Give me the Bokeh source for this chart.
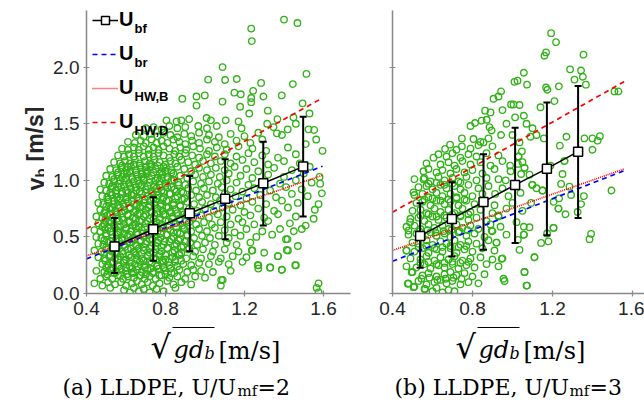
from bokeh.plotting import figure
from bokeh.models import (ColumnDataSource, Whisker, TeeHead, Label, Legend, LegendItem,
                          Range1d, FixedTicker, PrintfTickFormatter)
from bokeh.layouts import row, column
from bokeh.embed import file_html
from bokeh.resources import INLINE
from bokeh.core.properties import value

# ---------------- data ----------------
x_ticks = [0.4, 0.8, 1.2, 1.6]
y_ticks = [0.0, 0.5, 1.0, 1.5, 2.0]

# panel (a)  U/Umf = 2
a_bf_x = [0.542, 0.738, 0.923, 1.102, 1.295, 1.497]
a_bf_y = [0.415, 0.568, 0.709, 0.836, 0.974, 1.121]
a_bf_hi = [0.668, 0.850, 1.039, 1.185, 1.341, 1.562]
a_bf_lo = [0.180, 0.290, 0.373, 0.479, 0.600, 0.680]
a_line_x = [0.4, 1.595]
a_br_y = [0.306, 1.124]
a_hwb_y = [0.333, 1.044]
a_hwd_y = [0.571, 1.727]

# panel (b)  U/Umf = 3
b_bf_x = [0.538, 0.697, 0.855, 1.013, 1.172, 1.328]
b_bf_y = [0.509, 0.659, 0.809, 0.959, 1.103, 1.253]
b_bf_hi = [0.797, 0.982, 1.230, 1.465, 1.688, 1.833]
b_bf_lo = [0.227, 0.327, 0.386, 0.447, 0.515, 0.668]
b_line_x = [0.4, 1.558]
b_br_y = [0.285, 1.085]
b_hwb_y = [0.380, 1.100]
b_hwd_y = [0.718, 1.871]

a_points = [
(0.59,0.03),(0.62,0.01),(0.64,0.05),(0.665,0.02),(0.69,0.04),(0.72,0.01),(0.755,0.04),(0.79,0.02),(0.85,0.05),(1.565,0.05),(1.575,0.01),(0.52,0.05),
(0.44,0.09),(0.48,0.07),(0.51,0.10),(0.545,0.08),(0.575,0.10),(0.60,0.07),(0.63,0.09),(0.655,0.11),(0.68,0.08),(0.71,0.10),(0.735,0.07),(0.77,0.09),(0.81,0.11),(0.84,0.08),(0.88,0.10),(0.93,0.08),(1.08,0.07),(1.09,0.12),
(0.47,0.13),(0.50,0.15),(0.53,0.13),(0.56,0.16),(0.585,0.13),(0.61,0.15),(0.64,0.14),(0.67,0.16),(0.695,0.13),(0.72,0.15),(0.75,0.13),(0.78,0.16),(0.82,0.14),(0.86,0.15),(0.90,0.13),(0.95,0.15),(1.00,0.14),
(0.45,0.20),(0.49,0.19),(0.52,0.21),(0.55,0.19),(0.575,0.22),(0.60,0.20),(0.63,0.18),(0.655,0.21),(0.68,0.19),(0.71,0.21),(0.74,0.19),(0.765,0.22),(0.80,0.20),(0.83,0.18),(0.87,0.21),(0.91,0.19),(0.94,0.21),(0.98,0.20),(1.04,0.19),(1.13,0.20),(1.27,0.22),(1.33,0.23),(1.39,0.21),(1.46,0.25),
(0.48,0.26),(0.51,0.25),(0.535,0.27),(0.56,0.25),(0.59,0.27),(0.62,0.24),(0.645,0.26),(0.67,0.28),(0.70,0.25),(0.73,0.27),(0.76,0.25),(0.79,0.27),(0.82,0.25),(0.85,0.28),(0.89,0.26),(0.93,0.25),(0.97,0.27),(1.02,0.26),(1.07,0.28),(1.12,0.26),(1.19,0.28),(1.27,0.25),
(0.46,0.32),(0.49,0.31),(0.515,0.33),(0.545,0.31),(0.57,0.33),(0.60,0.30),(0.625,0.32),(0.65,0.34),(0.68,0.31),(0.71,0.33),(0.74,0.31),(0.77,0.33),(0.80,0.30),(0.835,0.32),(0.87,0.34),(0.905,0.31),(0.94,0.33),(0.98,0.31),(1.03,0.33),(1.08,0.31),(1.14,0.33),(1.21,0.32),(1.37,0.33),(1.42,0.38),
(0.44,0.38),(0.475,0.37),(0.50,0.39),(0.53,0.37),(0.555,0.40),(0.58,0.37),(0.61,0.39),(0.64,0.37),(0.665,0.40),(0.69,0.38),(0.72,0.36),(0.75,0.39),(0.78,0.37),(0.81,0.40),(0.845,0.38),(0.88,0.36),(0.915,0.39),(0.95,0.37),(0.99,0.39),(1.04,0.37),(1.10,0.39),(1.17,0.37),(1.24,0.38),(1.30,0.36),
(0.46,0.44),(0.485,0.43),(0.51,0.45),(0.54,0.43),(0.565,0.46),(0.59,0.43),(0.62,0.45),(0.65,0.43),(0.675,0.46),(0.70,0.44),(0.73,0.42),(0.76,0.45),(0.79,0.43),(0.82,0.46),(0.855,0.44),(0.89,0.42),(0.925,0.45),(0.96,0.43),(1.00,0.45),(1.05,0.43),(1.11,0.45),(1.16,0.43),(1.23,0.45),(1.41,0.48),(1.47,0.42),
(0.45,0.50),(0.475,0.49),(0.50,0.51),(0.53,0.49),(0.555,0.52),(0.58,0.49),(0.61,0.51),(0.635,0.49),(0.66,0.52),(0.69,0.50),(0.72,0.48),(0.75,0.51),(0.775,0.49),(0.81,0.52),(0.84,0.50),(0.875,0.48),(0.91,0.51),(0.945,0.49),(0.985,0.51),(1.025,0.49),(1.07,0.51),(1.12,0.49),(1.18,0.51),(1.26,0.50),(1.34,0.52),(1.49,0.57),
(0.44,0.56),(0.47,0.55),(0.495,0.57),(0.52,0.55),(0.545,0.58),(0.57,0.55),(0.60,0.57),(0.625,0.55),(0.65,0.58),(0.68,0.56),(0.71,0.54),(0.735,0.57),(0.76,0.55),(0.79,0.58),(0.825,0.56),(0.86,0.54),(0.895,0.57),(0.93,0.55),(0.97,0.57),(1.01,0.55),(1.05,0.58),(1.10,0.56),(1.15,0.54),(1.21,0.57),(1.29,0.55),(1.38,0.57),(1.45,0.55),
(0.46,0.62),(0.49,0.61),(0.515,0.63),(0.54,0.61),(0.565,0.64),(0.59,0.61),(0.62,0.63),(0.645,0.61),(0.67,0.64),(0.70,0.62),(0.73,0.60),(0.755,0.63),(0.78,0.61),(0.815,0.64),(0.85,0.62),(0.885,0.60),(0.92,0.63),(0.955,0.61),(0.995,0.63),(1.035,0.61),(1.08,0.63),(1.13,0.61),(1.19,0.63),(1.25,0.61),(1.32,0.64),(1.43,0.62),(1.51,0.60),
(0.45,0.68),(0.48,0.67),(0.505,0.69),(0.53,0.67),(0.555,0.70),(0.58,0.67),(0.61,0.69),(0.635,0.67),(0.66,0.70),(0.69,0.68),(0.72,0.66),(0.745,0.69),(0.77,0.67),(0.80,0.70),(0.835,0.68),(0.87,0.66),(0.905,0.69),(0.94,0.67),(0.98,0.69),(1.02,0.67),(1.065,0.70),(1.11,0.68),(1.17,0.66),(1.23,0.69),(1.30,0.67),(1.37,0.70),(1.46,0.68),(1.55,0.66),
(0.47,0.74),(0.495,0.73),(0.52,0.75),(0.545,0.73),(0.57,0.76),(0.595,0.73),(0.62,0.75),(0.65,0.73),(0.675,0.76),(0.70,0.74),(0.73,0.72),(0.76,0.75),(0.785,0.73),(0.815,0.76),(0.85,0.74),(0.885,0.72),(0.92,0.75),(0.96,0.73),(1.00,0.75),(1.045,0.73),(1.09,0.76),(1.14,0.74),(1.20,0.72),(1.27,0.75),(1.35,0.73),(1.42,0.76),(1.556,0.74),
(0.46,0.80),(0.485,0.79),(0.51,0.81),(0.535,0.79),(0.56,0.82),(0.585,0.79),(0.61,0.81),(0.64,0.79),(0.665,0.82),(0.69,0.80),(0.72,0.78),(0.75,0.81),(0.775,0.79),(0.805,0.82),(0.84,0.80),(0.875,0.78),(0.91,0.81),(0.945,0.79),(0.985,0.81),(1.03,0.79),(1.075,0.82),(1.12,0.80),(1.18,0.78),(1.24,0.81),(1.31,0.79),(1.39,0.82),(1.47,0.80),(1.575,0.79),
(0.48,0.86),(0.505,0.85),(0.53,0.87),(0.555,0.85),(0.58,0.88),(0.605,0.85),(0.63,0.87),(0.655,0.85),(0.68,0.88),(0.71,0.86),(0.74,0.84),(0.765,0.87),(0.79,0.85),(0.825,0.88),(0.86,0.86),(0.895,0.84),(0.93,0.87),(0.97,0.85),(1.01,0.87),(1.055,0.85),(1.10,0.88),(1.155,0.86),(1.21,0.84),(1.28,0.87),(1.36,0.85),(1.44,0.88),(1.52,0.86),(1.592,0.885),
(0.47,0.92),(0.50,0.91),(0.525,0.93),(0.55,0.91),(0.575,0.94),(0.60,0.91),(0.625,0.93),(0.65,0.91),(0.675,0.94),(0.70,0.92),(0.73,0.90),(0.755,0.93),(0.78,0.91),(0.81,0.94),(0.845,0.92),(0.88,0.90),(0.915,0.93),(0.955,0.91),(0.995,0.93),(1.04,0.91),(1.085,0.94),(1.13,0.92),(1.19,0.90),(1.25,0.93),(1.33,0.91),(1.41,0.94),(1.49,0.92),(1.583,0.97),
(0.49,0.98),(0.515,0.97),(0.54,0.99),(0.565,0.97),(0.59,1.00),(0.615,0.97),(0.64,0.99),(0.665,0.97),(0.69,1.00),(0.72,0.98),(0.745,0.96),(0.77,0.99),(0.80,0.97),(0.83,1.00),(0.865,0.98),(0.90,0.96),(0.94,0.99),(0.98,0.97),(1.02,0.99),(1.065,0.97),(1.11,1.00),(1.16,0.98),(1.22,0.96),(1.30,0.99),(1.38,0.97),(1.46,1.00),(1.54,0.98),
(0.50,1.04),(0.53,1.03),(0.555,1.05),(0.58,1.03),(0.605,1.06),(0.63,1.03),(0.655,1.05),(0.68,1.03),(0.705,1.06),(0.73,1.04),(0.76,1.02),(0.785,1.05),(0.81,1.03),(0.84,1.06),(0.875,1.04),(0.91,1.02),(0.95,1.05),(0.99,1.03),(1.03,1.05),(1.075,1.03),(1.12,1.06),(1.18,1.04),(1.24,1.02),(1.32,1.05),(1.40,1.03),(1.50,1.06),(1.58,1.03),
(0.52,1.10),(0.55,1.09),(0.575,1.11),(0.60,1.09),(0.625,1.12),(0.65,1.09),(0.675,1.11),(0.70,1.09),(0.725,1.12),(0.75,1.10),(0.78,1.08),(0.805,1.11),(0.83,1.09),(0.86,1.12),(0.895,1.10),(0.93,1.08),(0.97,1.11),(1.01,1.09),(1.055,1.11),(1.10,1.09),(1.15,1.12),(1.21,1.10),(1.27,1.08),(1.35,1.11),(1.44,1.09),(1.53,1.12),
(0.54,1.16),(0.57,1.15),(0.595,1.17),(0.62,1.15),(0.645,1.18),(0.67,1.15),(0.695,1.17),(0.72,1.15),(0.745,1.18),(0.77,1.16),(0.80,1.14),(0.825,1.17),(0.85,1.15),(0.88,1.18),(0.915,1.16),(0.95,1.14),(0.99,1.17),(1.03,1.15),(1.08,1.17),(1.13,1.15),(1.19,1.18),(1.25,1.16),(1.32,1.14),(1.40,1.17),(1.48,1.15),
(0.56,1.22),(0.59,1.21),(0.615,1.23),(0.64,1.21),(0.665,1.24),(0.69,1.21),(0.715,1.23),(0.74,1.21),(0.765,1.24),(0.79,1.22),(0.82,1.20),(0.845,1.23),(0.87,1.21),(0.90,1.24),(0.935,1.22),(0.97,1.20),(1.01,1.23),(1.05,1.21),(1.10,1.23),(1.16,1.21),(1.22,1.24),(1.29,1.22),(1.37,1.20),(1.46,1.23),(1.595,1.26),
(0.58,1.28),(0.61,1.27),(0.64,1.29),(0.665,1.27),(0.69,1.30),(0.715,1.27),(0.74,1.29),(0.765,1.27),(0.79,1.30),(0.82,1.28),(0.85,1.26),(0.875,1.29),(0.905,1.27),(0.94,1.30),(0.975,1.28),(1.02,1.26),(1.06,1.29),(1.11,1.27),(1.17,1.30),(1.24,1.28),(1.31,1.26),(1.42,1.29),(1.51,1.32),
(0.61,1.34),(0.645,1.33),(0.675,1.35),(0.70,1.33),(0.73,1.36),(0.755,1.33),(0.78,1.35),(0.81,1.33),(0.84,1.36),(0.87,1.34),(0.90,1.32),(0.935,1.35),(0.97,1.33),(1.01,1.36),(1.05,1.34),(1.10,1.32),(1.16,1.35),(1.23,1.33),(1.29,1.36),(1.364,1.415),(1.563,1.36),
(0.65,1.40),(0.69,1.39),(0.725,1.41),(0.76,1.39),(0.79,1.42),(0.825,1.40),(0.86,1.38),(0.895,1.41),(0.93,1.39),(0.97,1.42),(1.02,1.40),(1.07,1.38),(1.13,1.41),(1.20,1.39),(1.27,1.42),(1.39,1.40),
(0.70,1.46),(0.74,1.47),(0.78,1.45),(0.82,1.48),(0.86,1.46),(0.90,1.47),(0.966,1.48),(1.01,1.46),(1.06,1.48),(1.185,1.46),(1.347,1.47),(1.419,1.45),(1.46,1.50),(1.524,1.45),(1.553,1.445),
(0.805,1.53),(0.856,1.52),(0.88,1.53),(0.92,1.54),(1.008,1.55),(1.03,1.53),(1.105,1.53),(1.17,1.52),(1.315,1.50),(1.367,1.54),(1.448,1.556),
(0.885,1.72),(0.957,1.74),(0.999,1.75),(0.957,1.66),(1.016,1.89),(1.089,2.0),(1.102,1.886),(1.161,1.895),(1.284,1.86),(1.445,1.85),(1.514,1.94),(1.149,1.774),(1.181,1.76),(1.244,1.79),(1.234,1.727),(1.296,1.74),(1.389,1.75),(1.089,1.695),(1.234,1.69),(1.178,1.65),(1.318,1.615),(1.224,1.59),(1.494,1.68),(1.529,1.59),(1.234,2.34),(1.237,2.23),(1.40,2.42),(1.468,2.39),
(1.082,0.12),(1.457,0.25),(1.389,0.21),(1.33,0.23),(1.267,0.25),(1.369,0.33),(1.414,0.385),(1.418,0.48),(1.237,0.38),(1.575,0.09),
# denser core
(0.505,0.17),(0.54,0.18),(0.57,0.16),(0.605,0.17),(0.64,0.18),(0.675,0.16),(0.70,0.17),(0.735,0.18),(0.77,0.16),(0.80,0.17),(0.845,0.18),
(0.50,0.23),(0.535,0.22),(0.565,0.24),(0.60,0.23),(0.63,0.22),(0.66,0.24),(0.695,0.23),(0.725,0.22),(0.755,0.24),(0.79,0.23),(0.825,0.22),(0.86,0.24),
(0.495,0.29),(0.53,0.28),(0.56,0.30),(0.59,0.29),(0.625,0.28),(0.655,0.30),(0.69,0.29),(0.72,0.28),(0.75,0.30),(0.785,0.29),(0.815,0.28),(0.85,0.30),(0.88,0.29),
(0.49,0.35),(0.52,0.34),(0.55,0.36),(0.585,0.35),(0.615,0.34),(0.645,0.36),(0.68,0.35),(0.71,0.34),(0.74,0.36),(0.77,0.35),(0.80,0.34),(0.835,0.36),(0.87,0.35),
(0.50,0.41),(0.53,0.40),(0.56,0.42),(0.595,0.41),(0.625,0.40),(0.655,0.42),(0.69,0.41),(0.72,0.40),(0.75,0.42),(0.78,0.41),(0.81,0.40),(0.845,0.42),(0.88,0.41),(0.92,0.40),
(0.49,0.47),(0.52,0.46),(0.55,0.48),(0.58,0.47),(0.61,0.46),(0.64,0.48),(0.675,0.47),(0.705,0.46),(0.735,0.48),(0.765,0.47),(0.795,0.46),(0.83,0.48),(0.865,0.47),(0.90,0.46),
(0.50,0.53),(0.53,0.52),(0.56,0.54),(0.59,0.53),(0.62,0.52),(0.655,0.54),(0.685,0.53),(0.715,0.52),(0.745,0.54),(0.775,0.53),(0.805,0.52),(0.84,0.54),(0.875,0.53),(0.91,0.52),
(0.48,0.59),(0.51,0.58),(0.54,0.60),(0.57,0.59),(0.60,0.58),(0.635,0.60),(0.665,0.59),(0.695,0.58),(0.725,0.60),(0.755,0.59),(0.785,0.58),(0.82,0.60),(0.855,0.59),(0.89,0.58),
(0.495,0.65),(0.525,0.64),(0.555,0.66),(0.585,0.65),(0.615,0.64),(0.65,0.66),(0.68,0.65),(0.71,0.64),(0.74,0.66),(0.77,0.65),(0.80,0.64),(0.835,0.66),(0.87,0.65),(0.905,0.64),
(0.49,0.71),(0.52,0.70),(0.55,0.72),(0.58,0.71),(0.61,0.70),(0.64,0.72),(0.67,0.71),(0.70,0.70),(0.73,0.72),(0.76,0.71),(0.79,0.70),(0.825,0.72),(0.86,0.71),(0.895,0.70),
(0.50,0.77),(0.53,0.76),(0.56,0.78),(0.59,0.77),(0.62,0.76),(0.655,0.78),(0.685,0.77),(0.715,0.76),(0.745,0.78),(0.775,0.77),(0.805,0.76),(0.84,0.78),(0.875,0.77),
(0.51,0.83),(0.54,0.82),(0.57,0.84),(0.60,0.83),(0.63,0.82),(0.665,0.84),(0.695,0.83),(0.725,0.82),(0.755,0.84),(0.785,0.83),(0.815,0.82),(0.85,0.84),(0.885,0.83),
(0.52,0.89),(0.55,0.88),(0.58,0.90),(0.61,0.89),(0.64,0.88),(0.67,0.90),(0.70,0.89),(0.73,0.88),(0.76,0.90),(0.79,0.89),(0.82,0.88),(0.855,0.90),(0.89,0.89),
(0.53,0.95),(0.56,0.94),(0.59,0.96),(0.62,0.95),(0.65,0.94),(0.68,0.96),(0.71,0.95),(0.74,0.94),(0.77,0.96),(0.80,0.95),(0.83,0.94),(0.865,0.96),
(0.54,1.01),(0.57,1.00),(0.60,1.02),(0.63,1.01),(0.66,1.00),(0.69,1.02),(0.72,1.01),(0.75,1.00),(0.78,1.02),(0.81,1.01),(0.845,1.00),
(0.56,1.07),(0.59,1.06),(0.62,1.08),(0.65,1.07),(0.68,1.06),(0.71,1.08),(0.74,1.07),(0.77,1.06),(0.80,1.08),(0.83,1.07),
(0.58,1.13),(0.61,1.12),(0.64,1.14),(0.67,1.13),(0.70,1.12),(0.73,1.14),(0.76,1.13),(0.79,1.12),
]

b_points = [
(0.56,0.04),(0.60,0.02),(0.62,0.05),(0.65,0.01),(0.68,0.03),(0.71,0.02),(1.07,0.07),(0.51,0.06),
(0.48,0.09),(0.53,0.11),(0.57,0.08),(0.61,0.10),(0.64,0.12),(0.67,0.09),(0.70,0.11),(0.74,0.08),(0.78,0.10),(0.83,0.09),(0.96,0.11),(0.955,0.13),
(0.50,0.19),(0.55,0.16),(0.58,0.18),(0.62,0.15),(0.66,0.17),(0.69,0.19),(0.72,0.16),(0.76,0.18),(0.80,0.15),(0.86,0.17),(1.06,0.19),
(0.47,0.24),(0.52,0.23),(0.56,0.26),(0.59,0.22),(0.63,0.25),(0.66,0.23),(0.70,0.26),(0.73,0.22),(0.77,0.25),(0.81,0.23),(0.87,0.26),(0.93,0.24),
(0.49,0.31),(0.54,0.30),(0.57,0.33),(0.61,0.29),(0.64,0.32),(0.68,0.30),(0.71,0.33),(0.75,0.29),(0.79,0.31),(0.84,0.32),(0.90,0.30),(0.95,0.31),(1.11,0.32),
(0.47,0.38),(0.51,0.37),(0.55,0.40),(0.58,0.36),(0.62,0.39),(0.65,0.37),(0.69,0.40),(0.72,0.36),(0.76,0.39),(0.80,0.37),(0.85,0.40),(0.91,0.38),(1.035,0.386),
(0.50,0.45),(0.53,0.44),(0.57,0.47),(0.60,0.43),(0.64,0.46),(0.67,0.44),(0.71,0.47),(0.74,0.43),(0.78,0.46),(0.82,0.44),(0.88,0.47),(0.92,0.45),(1.027,0.474),(1.143,0.447),(1.18,0.46),(1.385,0.48),
(0.48,0.52),(0.52,0.53),(0.55,0.50),(0.59,0.54),(0.62,0.51),(0.66,0.53),(0.69,0.50),(0.73,0.54),(0.77,0.51),(0.81,0.53),(0.86,0.50),(0.90,0.55),(0.97,0.52),(1.057,0.52),(1.173,0.53),(1.393,0.527),
(0.47,0.59),(0.51,0.60),(0.54,0.57),(0.58,0.61),(0.61,0.58),(0.65,0.60),(0.68,0.57),(0.72,0.61),(0.75,0.58),(0.79,0.60),(0.83,0.57),(0.89,0.61),(0.94,0.59),(1.057,0.59),(1.085,0.585),(1.205,0.58),
(0.49,0.66),(0.53,0.67),(0.56,0.64),(0.60,0.68),(0.63,0.65),(0.67,0.67),(0.70,0.64),(0.74,0.68),(0.78,0.65),(0.82,0.67),(0.87,0.64),(0.93,0.68),(1.02,0.63),(1.265,0.70),
(0.50,0.73),(0.54,0.74),(0.57,0.71),(0.61,0.75),(0.64,0.72),(0.68,0.74),(0.71,0.71),(0.75,0.75),(0.79,0.72),(0.84,0.74),(0.90,0.71),(0.97,0.75),(1.05,0.73),(1.23,0.75),(1.326,0.72),
(0.52,0.80),(0.55,0.81),(0.59,0.78),(0.62,0.82),(0.66,0.79),(0.69,0.81),(0.73,0.78),(0.77,0.82),(0.81,0.79),(0.86,0.81),(0.91,0.78),(1.00,0.80),(1.093,0.80),(1.206,0.81),(1.343,0.79),
(0.51,0.87),(0.55,0.88),(0.58,0.85),(0.62,0.89),(0.65,0.86),(0.69,0.88),(0.72,0.85),(0.76,0.89),(0.80,0.86),(0.85,0.88),(0.913,0.88),(0.98,0.86),(1.04,0.89),(1.15,0.91),(1.293,0.87),(1.357,0.86),(1.233,0.84),
(0.53,0.94),(0.57,0.95),(0.60,0.92),(0.64,0.96),(0.67,0.93),(0.71,0.95),(0.74,0.92),(0.78,0.96),(0.83,0.93),(0.88,0.95),(0.95,0.93),(1.10,0.96),(1.12,0.93),(1.243,0.968),(1.285,0.944),(1.495,0.91),(1.098,0.96),
(0.51,1.01),(0.56,1.02),(0.59,0.99),(0.63,1.03),(0.66,1.00),(0.70,1.02),(0.73,0.99),(0.77,1.03),(0.82,1.00),(0.87,1.02),(0.93,1.01),(0.966,1.00),(1.043,1.056),(1.085,1.05),(1.25,1.056),
(0.555,1.08),(0.58,1.10),(0.62,1.07),(0.65,1.09),(0.69,1.06),(0.72,1.10),(0.76,1.07),(0.80,1.09),(0.85,1.06),(0.91,1.10),(0.99,1.08),(1.06,1.11),(1.19,1.13),
(0.57,1.15),(0.605,1.20),(0.64,1.14),(0.68,1.16),(0.71,1.13),(0.75,1.17),(0.79,1.14),(0.84,1.16),(0.89,1.13),(0.95,1.17),(0.988,1.13),(1.027,1.145),(1.05,1.16),(1.26,1.17),
(0.63,1.23),(0.67,1.21),(0.70,1.24),(0.74,1.20),(0.78,1.23),(0.82,1.21),(0.87,1.24),(0.93,1.22),(1.03,1.21),(1.237,1.306),
(0.663,1.277),(0.688,1.315),(0.72,1.27),(0.747,1.30),(0.79,1.28),(0.83,1.31),(0.855,1.335),(0.90,1.30),(1.035,1.335),(1.047,1.256),
(0.747,1.37),(0.805,1.365),(0.84,1.34),(0.88,1.37),(0.943,1.40),(1.0,1.40),(1.09,1.385),(1.157,1.37),(1.27,1.385),(1.36,1.37),(1.40,1.37),(1.426,1.35),(1.437,1.39),(1.40,1.27),
(0.79,1.48),(0.813,1.506),(0.846,1.527),(0.871,1.535),(0.885,1.47),(0.896,1.44),(0.863,1.615),(0.89,1.60),(0.905,1.72),(0.93,1.74),(0.943,1.785),(0.993,1.67),(1.005,1.67),(1.013,1.556),(1.01,1.87),(1.025,1.88),(1.035,1.665),(1.057,1.57),(1.10,1.46),(1.057,1.95),(1.073,1.845),(1.14,1.645),(1.168,1.82),(1.175,1.80),(1.16,2.10),(1.168,2.13),(1.193,2.30),(1.218,2.22),(1.21,1.70),(1.232,1.83),(1.288,1.98),(1.31,1.89),(1.343,1.97),(1.352,1.915),(1.355,2.11),(1.367,1.845),(1.51,1.785),(1.53,1.785),(0.97,1.50),(0.95,1.62),(1.07,1.50),(1.12,1.40),
(1.15,0.91),(1.23,0.75),(1.26,1.17),(1.06,0.19),(1.073,0.07),(1.057,0.52),(1.06,1.11),(1.03,1.21),(1.205,0.58),(1.11,0.32),(0.946,0.306),(0.92,0.45),(0.896,0.556),(0.93,0.69),(0.477,0.086),(0.505,0.056),(0.563,0.04),(0.496,0.188),(0.48,0.556),(0.488,0.63),(0.47,0.38),(0.505,0.894),(0.555,1.01),
# denser core
(0.545,0.13),(0.585,0.14),(0.625,0.12),(0.665,0.13),(0.705,0.14),(0.745,0.13),
(0.54,0.27),(0.58,0.28),(0.62,0.26),(0.66,0.27),(0.70,0.28),(0.74,0.27),(0.78,0.28),
(0.53,0.41),(0.57,0.42),(0.61,0.40),(0.65,0.41),(0.69,0.42),(0.73,0.41),(0.77,0.42),
(0.535,0.55),(0.575,0.56),(0.615,0.54),(0.655,0.55),(0.695,0.56),(0.735,0.55),(0.775,0.56),
(0.54,0.69),(0.58,0.70),(0.62,0.68),(0.66,0.69),(0.70,0.70),(0.74,0.69),(0.78,0.70),
(0.56,0.83),(0.60,0.84),(0.64,0.82),(0.68,0.83),(0.72,0.84),(0.76,0.83),
(0.58,0.97),(0.62,0.98),(0.66,0.96),(0.70,0.97),(0.74,0.98),
]

a_sc_x = [p[0] for p in a_points]
a_sc_y = [p[1] for p in a_points]
b_sc_x = [p[0] for p in b_points]
b_sc_y = [p[1] for p in b_points]

legend_labels = ["U", "U", "U", "U"]
legend_subs = ["bf", "br", "HW,B", "HW,D"]

# ---------------- style ----------------
GREEN = "#33B31A"
AX = "#888888"
TXT = "#262626"
TOP_H = 325
LEFT_W = 44
SANS = "Liberation Sans"
SERIF = "DejaVu Serif"


def bare(width, height, xr, yr, top=0, bottom=0):
    f = figure(width=width, height=height, x_range=xr, y_range=yr, output_backend="svg",
               toolbar_location=None, min_border_left=0, min_border_right=0,
               min_border_top=top, min_border_bottom=bottom,
               x_axis_location=None, y_axis_location=None)
    f.outline_line_color = None
    f.xgrid.visible = False
    f.ygrid.visible = False
    return f


def make_panel(sx, sy, bx, by, blo, bhi, lx, br, hwb, hwd, width, left, right, xend, ylabels):
    p = figure(width=width, height=TOP_H, x_range=Range1d(0.4, xend), y_range=Range1d(0, 2.5),
               output_backend="svg", toolbar_location=None,
               min_border_left=left, min_border_right=right, min_border_top=10, min_border_bottom=32)
    p.outline_line_color = None
    p.xgrid.visible = False
    p.ygrid.visible = False

    p.scatter(sx, sy, marker="circle", size=6.5, fill_color=None, line_color=GREEN, line_width=1.35)
    r_br = p.line(lx, br, line_color="#0000FF", line_dash="5 4", line_width=1.7)
    r_hwb = p.line(lx, hwb, line_color="#FF0000", line_dash="1 1", line_width=1.7)
    r_hwd = p.line(lx, hwd, line_color="#FF0000", line_dash="5 4", line_width=1.7)

    src = ColumnDataSource(dict(x=bx, y=by, lo=blo, hi=bhi))
    w = Whisker(base="x", upper="hi", lower="lo", source=src, line_color="black", line_width=2,
                upper_head=TeeHead(size=7, line_color="black", line_width=2),
                lower_head=TeeHead(size=7, line_color="black", line_width=2), level="glyph")
    p.add_layout(w)
    r_l = p.line("x", "y", source=src, line_color="black", line_width=1.5, level="annotation")
    r_s = p.scatter("x", "y", source=src, marker="square", size=9, fill_color="white",
                    line_color="black", line_width=1.5, level="annotation")

    for ax in (p.xaxis[0], p.yaxis[0]):
        ax.axis_line_color = AX
        ax.axis_line_width = 1.5
        ax.major_tick_line_color = AX
        ax.major_tick_line_width = 1.2
        ax.major_tick_in = 3
        ax.major_tick_out = 3
        ax.minor_tick_line_color = None
        ax.major_label_text_color = TXT
        ax.major_label_text_font = SANS
        ax.major_label_text_font_size = "19px"
    p.xaxis.ticker = FixedTicker(ticks=x_ticks)
    p.xaxis.formatter = PrintfTickFormatter(format="%.1f")
    p.xaxis.major_label_standoff = 5
    p.yaxis.ticker = FixedTicker(ticks=y_ticks)
    p.yaxis.major_label_standoff = 4
    if ylabels:
        p.yaxis.formatter = PrintfTickFormatter(format="%.1f")
    else:
        p.yaxis.major_label_overrides = {t: " " for t in y_ticks}
    return p, (r_l, r_s, r_br, r_hwb, r_hwd)


pa, ra = make_panel(a_sc_x, a_sc_y, a_bf_x, a_bf_y, a_bf_lo, a_bf_hi, a_line_x,
                    a_br_y, a_hwb_y, a_hwd_y, 360 - LEFT_W, 86 - LEFT_W, 10, 0.4 + 264 / 197.5, True)
pb, rb = make_panel(b_sc_x, b_sc_y, b_bf_x, b_bf_y, b_bf_lo, b_bf_hi, b_line_x,
                    b_br_y, b_hwb_y, b_hwd_y, 284, 32, 0, 0.4 + 252 / 200.0, False)

# legend (panel a)
items = [LegendItem(label=legend_labels[0], renderers=[ra[0], ra[1]]),
         LegendItem(label=legend_labels[1], renderers=[ra[2]]),
         LegendItem(label=legend_labels[2], renderers=[ra[3]]),
         LegendItem(label=legend_labels[3], renderers=[ra[4]])]
leg = Legend(items=items, location=(6, 160), glyph_width=26, glyph_height=20, label_standoff=1,
             spacing=11, padding=0, margin=0, border_line_color=None, background_fill_alpha=0,
             label_text_font=SANS, label_text_font_size="20px", label_text_font_style="bold",
             label_height=20, label_text_color="black")
pa.add_layout(leg)
sub_y = [265.5, 231.2, 196.9, 162.6]
for s, yy in zip(legend_subs, sub_y):
    pa.add_layout(Label(x=48, y=yy, x_units="screen", y_units="screen", text=s,
                        text_font=SANS, text_font_size="13px", text_font_style="bold",
                        text_baseline="middle", text_color="black"))

# y axis label  v_b [m/s]: strip on the left whose frame spans the same rows as the panels (10..293);
# its y range is the negated pixel row, so y = -row places text at that row.
py = bare(LEFT_W, TOP_H, Range1d(0, LEFT_W), Range1d(-293, -10), top=10, bottom=32)
for txt, xx, rr, fs in (("v", 35, 190, "23px"), ("b", 40, 177, "15px"), ("[m/s]", 35, 161, "23px")):
    py.text(x=[xx], y=[-rr], text=[txt], angle=1.5708, text_font=value(SANS), text_font_size=fs,
            text_font_style="bold", text_color=TXT, text_baseline="alphabetic", text_align="left")

# bottom texts (x-axis labels and captions)
pc = bare(644, 408 - TOP_H, Range1d(0, 644), Range1d(408, TOP_H))
for off in (0, 305):
    pc.text(x=[150 + off], y=[346], text=["\u221a"], text_font=value(SERIF), text_font_size="32px",
            text_baseline="alphabetic", text_color="black")
    pc.text(x=[173 + off], y=[349], text=["gd"], text_font=value(SERIF), text_font_size="24px",
            text_font_style="italic", text_baseline="alphabetic", text_color="black")
    pc.text(x=[204 + off], y=[353], text=["b"], text_font=value(SERIF), text_font_size="16px",
            text_font_style="italic", text_baseline="alphabetic", text_color="black")
    pc.segment(x0=[172 + off], y0=[327], x1=[214 + off], y1=[327], line_color="black", line_width=1.2)
    pc.text(x=[218 + off], y=[350], text=["[m/s]"], text_font=value(SERIF), text_font_size="24px",
            text_baseline="alphabetic", text_color="black")

captions = [("(a) LLDPE, U/U", "mf", "=2", 62), ("(b) LLDPE, U/U", "mf", "=3", 394)]
for main, sub, tail, x0 in captions:
    pc.text(x=[x0], y=[387], text=[main], text_font=value(SERIF), text_font_size="22px",
            text_baseline="alphabetic", text_color="black")
    pc.text(x=[x0 + 175], y=[390], text=[sub], text_font=value(SERIF), text_font_size="15px",
            text_baseline="alphabetic", text_color="black")
    pc.text(x=[x0 + 195], y=[387], text=[tail], text_font=value(SERIF), text_font_size="22px",
            text_baseline="alphabetic", text_color="black")

layout = column(row(py, pa, pb), pc)
open("out.html", "w").write(file_html(layout, INLINE))
